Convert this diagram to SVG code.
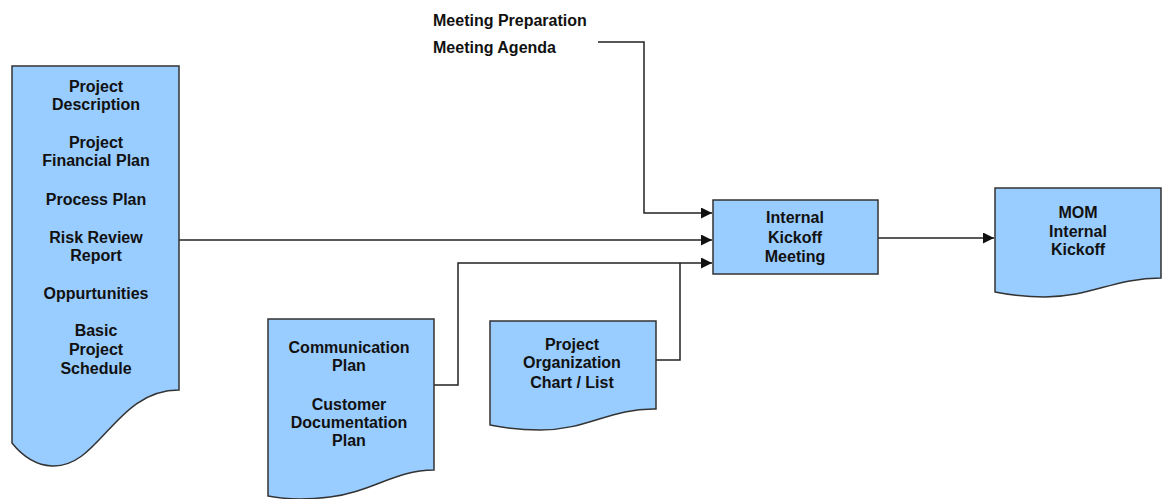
<svg xmlns="http://www.w3.org/2000/svg" width="1163" height="499" viewBox="0 0 1163 499">
<defs>
<marker id="arr" markerUnits="userSpaceOnUse" markerWidth="11" markerHeight="11" refX="11" refY="5.5" orient="auto"><path d="M0,0 L11,5.5 L0,11 z" fill="#111"/></marker>
<style>
.doc{fill:#99ccff;stroke:#333;stroke-width:1.5}
.t{font-family:"Liberation Sans",Arial,sans-serif;font-weight:bold;font-size:16px;fill:#111;text-anchor:middle}
.tl{font-family:"Liberation Sans",Arial,sans-serif;font-weight:bold;font-size:16px;fill:#111}
.c{fill:none;stroke:#222;stroke-width:1.5}
</style>
</defs>
<rect width="1163" height="499" fill="#fff"/>
<g id="connectors">
<path class="c" d="M598,42 H644 V213 H712" marker-end="url(#arr)"/>
<path class="c" d="M179,240 H712" marker-end="url(#arr)"/>
<path class="c" d="M434,385 H458 V263 H712" marker-end="url(#arr)"/>
<path class="c" d="M656,360 H680 V263"/>
<path class="c" d="M878,238 H994" marker-end="url(#arr)"/>
</g>
<g id="meeting-inputs">
<text class="tl" x="433" y="26">Meeting Preparation</text>
<text class="tl" x="433" y="53">Meeting Agenda</text>
</g>
<g id="project-docs">
<path class="doc" d="M12,66 H179 V390 C115,390 100,468 52,466 C32,465 20,453 12,443 Z"/>
<text class="t" x="96" y="92">Project</text>
<text class="t" x="96" y="110">Description</text>
<text class="t" x="96" y="148">Project</text>
<text class="t" x="96" y="166">Financial Plan</text>
<text class="t" x="96" y="205">Process Plan</text>
<text class="t" x="96" y="243">Risk Review</text>
<text class="t" x="96" y="261">Report</text>
<text class="t" x="96" y="299">Oppurtunities</text>
<text class="t" x="96" y="336">Basic</text>
<text class="t" x="96" y="355">Project</text>
<text class="t" x="96" y="374">Schedule</text>
</g>
<g id="communication-docs">
<path class="doc" d="M268,319 H434 V470 C395,470 372,492 330,497 C305,500 283,499 268,496 Z"/>
<text class="t" x="349" y="353">Communication</text>
<text class="t" x="349" y="371">Plan</text>
<text class="t" x="349" y="410">Customer</text>
<text class="t" x="349" y="428">Documentation</text>
<text class="t" x="349" y="446">Plan</text>
</g>
<g id="org-chart">
<path class="doc" d="M490,321 H656 V409 C610,408 588,430 540,430 C515,430 500,427 490,425 Z"/>
<text class="t" x="572" y="350">Project</text>
<text class="t" x="572" y="368">Organization</text>
<text class="t" x="572" y="388">Chart / List</text>
</g>
<g id="kickoff-meeting">
<rect class="doc" x="713" y="200" width="165" height="74"/>
<text class="t" x="795" y="223">Internal</text>
<text class="t" x="795" y="243">Kickoff</text>
<text class="t" x="795" y="262">Meeting</text>
</g>
<g id="mom">
<path class="doc" d="M995,188 H1161 V278 C1115,278 1090,297 1045,297 C1020,297 1005,294 995,292 Z"/>
<text class="t" x="1078" y="218">MOM</text>
<text class="t" x="1078" y="237">Internal</text>
<text class="t" x="1078" y="255">Kickoff</text>
</g>
</svg>
